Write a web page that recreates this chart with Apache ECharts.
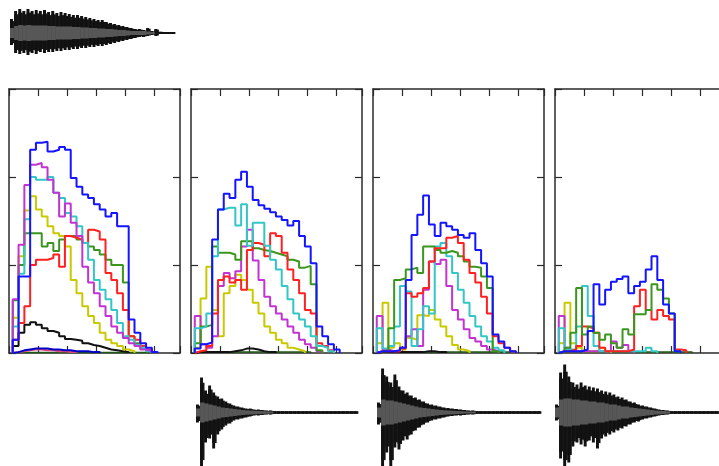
<!DOCTYPE html>
<html><head><meta charset="utf-8">
<script src="https://cdn.jsdelivr.net/npm/echarts@6/dist/echarts.min.js"></script>
<style>html,body{margin:0;padding:0;background:#fff}#c{width:719px;height:466px}</style>
</head><body><div id="c"></div>
<script>
// ---------- histogram data (bin heights, one value per bin) ----------
const binStart = 0.13, binWidth = 0.2;
const yTicks = [0, 1, 2, 3];

const p1Blue    = [0.15,0.87,0.87,2.31,2.39,2.40,2.29,2.31,2.34,2.31,1.99,1.89,1.80,1.76,1.69,1.63,1.55,1.59,1.44,1.44,0.38,0.23,0.11,0.06,0.01];
const p1Magenta = [0.61,1.23,1.91,2.14,2.16,2.11,1.97,1.82,1.55,1.70,1.48,1.33,0.98,0.80,0.68,0.53,0.42,0.30,0.23,0.17,0.11,0.08,0.04,0.02];
const p1Cyan    = [0.30,0.90,1.52,2.00,1.97,1.97,2.00,1.82,1.76,1.59,1.55,1.44,1.25,1.06,0.83,0.72,0.61,0.49,0.34,0.19,0.15,0.09,0.06,0.02];
const p1Yellow  = [0.40,1.10,1.62,1.78,1.63,1.55,1.44,1.36,1.33,1.21,0.83,0.68,0.53,0.42,0.34,0.23,0.15,0.11,0.08,0.04,0.02];
const p1Green   = [0.60,1.00,1.36,1.36,1.36,1.21,1.25,1.16,1.29,1.33,1.33,1.29,1.25,1.21,1.17,1.12,1.06,1.00,1.00,0.80,0.19,0.11,0.05,0.02];
const p1Red     = [0.15,0.34,0.53,1.00,1.06,1.06,1.08,1.12,0.98,1.33,1.31,1.29,1.25,1.40,1.38,1.29,0.91,0.83,0.68,0.49,0.19,0.15,0.08,0.04];
const p1Black   = [0.08,0.23,0.32,0.35,0.32,0.28,0.25,0.23,0.19,0.16,0.15,0.14,0.11,0.09,0.08,0.06,0.04,0.03,0.02,0.01];
const p1SmallBlue = [0.01,0.03,0.04,0.05,0.05,0.05,0.04,0.04,0.03,0.03,0.02,0.02,0.02,0.01,0.01];
const p1SmallRed  = [0.01,0.02,0.03,0.04,0.04,0.03,0.03,0.02,0.02,0.01,0.01];
const p1Base    = [0.005,0.005,0.005,0.005,0.005,0.005,0.005,0.005,0.005,0.005,0.005,0.005,0.005,0.005,0.005,0.005,0.005,0.005,0.005,0.005,0.005,0.005,0.005,0.005];

const p2Blue    = [0.05,0.10,0.12,1.29,1.63,1.81,1.76,1.97,2.06,1.89,1.74,1.68,1.64,1.60,1.55,1.51,1.45,1.50,1.33,1.21,1.02,0.30,0.19,0.10,0.04];
const p2Cyan    = [0.28,0.30,0.45,1.10,1.63,1.65,1.65,1.45,1.69,1.22,1.48,1.48,1.22,1.06,0.95,0.76,0.61,0.45,0.38,0.30,0.19,0.08,0.06,0.02];
const p2Magenta = [0.42,0.10,0.06,0.19,0.76,0.91,0.85,0.93,1.21,1.40,1.05,0.83,0.64,0.53,0.45,0.38,0.30,0.23,0.15,0.10,0.06,0.02];
const p2Yellow  = [0.06,0.62,0.98,0.49,0.19,0.68,0.76,0.89,0.83,0.72,0.57,0.45,0.30,0.23,0.15,0.11,0.06,0.04,0.02];
const p2Green   = [0.11,0.30,0.32,1.21,1.14,1.14,1.12,1.06,1.27,1.27,1.19,1.17,1.16,1.14,1.12,1.10,1.06,1.04,0.97,0.99,0.78,0.03];
const p2Red     = [0.02,0.03,0.08,0.45,0.83,0.87,0.80,0.83,0.72,1.17,1.25,1.23,1.10,1.36,1.33,1.14,0.95,0.83,0.68,0.49,0.45,0.11,0.08,0.03];
const p2Black   = [0.01,0.01,0.01,0.01,0.01,0.01,0.02,0.03,0.05,0.05,0.04,0.02,0.01,0.01];
const p2Base    = [0.01,0.01,0.01,0.01,0.01,0.01,0.01,0.01,0.01,0.01,0.01,0.01,0.01,0.01,0.01,0.01,0.01,0.01,0.01,0.01];

const p3Blue    = [0.02,0.02,0.02,0.03,0.06,0.83,1.34,1.57,1.79,1.46,1.33,1.48,1.44,1.40,1.34,1.31,1.36,1.17,1.02,0.87,0.21,0.13,0.06,0.02];
const p3Green   = [0.02,0.02,0.28,0.83,0.85,0.95,0.97,0.91,1.21,1.21,1.17,1.14,1.16,1.14,1.10,1.04,0.98,0.97,0.87,0.74,0.02];
const p3Red     = [0.02,0.02,0.02,0.02,0.05,0.68,0.64,0.68,0.74,1.04,1.19,1.19,1.31,1.33,1.25,1.06,0.91,0.80,0.64,0.45,0.19,0.11,0.06,0.02];
const p3Cyan    = [0.28,0.05,0.08,0.30,0.76,0.70,0.08,0.27,0.53,0.45,1.21,1.25,1.10,0.91,0.72,0.57,0.42,0.30,0.19,0.13,0.06,0.03];
const p3Magenta = [0.42,0.04,0.02,0.02,0.06,0.19,0.27,0.08,0.72,1.04,1.01,1.06,0.76,0.49,0.38,0.27,0.17,0.13,0.08,0.04,0.02];
const p3Yellow  = [0.11,0.57,0.06,0.11,0.04,0.17,0.15,0.43,0.42,0.49,0.38,0.30,0.19,0.09,0.04,0.02];
const p3Black   = [0.01,0.01,0.01,0.01,0.01,0.01,0.01,0.01,0.02,0.02,0.01,0.01];
const p3Base    = [0.01,0.01,0.01,0.01,0.01,0.01,0.01,0.01,0.01,0.01,0.01,0.01,0.01,0.01,0.01,0.01,0.01,0.01,0.01,0.01,0.01,0.01,0.01];

const p4Blue    = [0.02,0.02,0.02,0.02,0.04,0.25,0.78,0.55,0.72,0.81,0.84,0.87,0.68,0.76,0.81,0.95,1.10,0.83,0.55,0.45,0.02];
const p4Green   = [0.02,0.06,0.23,0.74,0.21,0.30,0.23,0.15,0.21,0.11,0.06,0.27,0.21,0.44,0.44,0.49,0.78,0.72,0.62,0.45,0.02];
const p4Red     = [0.02,0.02,0.04,0.08,0.30,0.28,0.23,0.06,0.02,0.02,0.02,0.02,0.04,0.53,0.72,0.49,0.38,0.49,0.42,0.38,0.04,0.03];
const p4Cyan    = [0.28,0.04,0.04,0.30,0.76,0.42,0.08,0.02,0.02,0.02,0.02,0.02,0.02,0.02,0.02,0.06,0.02];
const p4Magenta = [0.42,0.06,0.02,0.02,0.02,0.02,0.02,0.02,0.02,0.13,0.06,0.09,0.02];
const p4Yellow  = [0.11,0.57,0.11,0.06,0.02,0.02,0.02,0.06,0.02];
const p4Base    = [0.01,0.01,0.01,0.01,0.01,0.01,0.01,0.01,0.01,0.01,0.01,0.01,0.01,0.01,0.01,0.01,0.01,0.01,0.01,0.01,0.01,0.01,0.01];

// ---------- waveform envelopes (upper peak, lower peak, inner core) ----------
const waveTopHi   = [14,22,24,22,24,22,23,22,23,21,22,20,21,20,19,18,18,17,16,15,14,13,13,11,10,9,8,7,6,5,4,4,3,5,2,4,1.2,1,1,1];
const waveTopLo   = [12,20,21,20,22,20,21,19,20,19,19,18,18,17,17,16,16,15,15,14,14,13,13,12,11,10,9,8,7,6,5,4,4,3,2,3,1,1,1,1];
const waveTopCore = [5,7,8,7.5,8,7.5,7.5,7.5,7.5,7,7,6.5,6.5,6.5,6.5,6,6,5.5,5.5,5,5,4.5,4.5,4,4,3.5,3,3,2.5,2,2,2,2,1.5,1,0,0,0,0,0];

const wave2Hi   = [8,35,22,27,20,16,14,11,9,7,6,5,4,4,3,3,2.5,2,2,1.2,1.2,1.2,1.2,1.2,1.2,1.2,1.2,1.2,1.2,1.2,1.2,1.2,1.2,1.2,1.2,1.2,1.2,1.2,1.2,1.2];
const wave2Lo   = [10,56,30,26,36,22,17,13,11,8,7,6,5,4,3,3,2.5,2,2,1.2,1.2,1.2,1.2,1.2,1.2,1.2,1.2,1.2,1.2,1.2,1.2,1.2,1.2,1.2,1.2,1.2,1.2,1.2,1.2,1.2];
const wave2Core = [4,10,9,8,7,6,5,4.5,4,3.5,3,2.5,2.2,2,1.8,1.6,1.4,1.2,1,0,0,0,0,0,0,0,0,0,0,0,0,0,0,0,0,0,0,0,0,0];

const wave3Hi   = [10,44,36,30,38,26,22,20,17,15,13,11,9,8,7,6,5,4.5,4,3.5,3,2.5,2,2,1.2,1.2,1.2,1.2,1.2,1.2,1.2,1.2,1.2,1.2,1.2,1.2,1.2,1.2,1.2,1.2];
const wave3Lo   = [12,56,40,56,35,37,28,27,22,18,15,12,10,8,7,6,5,4,3.5,3,3,2.5,2,2,1.2,1.2,1.2,1.2,1.2,1.2,1.2,1.2,1.2,1.2,1.2,1.2,1.2,1.2,1.2,1.2];
const wave3Core = [5,13,12,12,11,10,9,8,7,6,5,4.5,4,3.5,3,2.5,2.2,2,1.8,1.5,1.3,1.1,1,1,0,0,0,0,0,0,0,0,0,0,0,0,0,0,0,0];

const wave4Hi   = [8,40,48,36,30,28,30,27,26,25,24,22,21,20,18,16,15,13,11,10,8,7,6,5,4,3,2.5,2,1.2,1.2,1.2,1.2,1.2,1.2,1.2,1.2,1.2,1.2,1.2,1.2];
const wave4Lo   = [8,46,56,50,34,30,32,34,28,30,36,26,24,22,20,18,16,14,12,10,9,7,6,5,4,3,2.5,2,1.2,1.2,1.2,1.2,1.2,1.2,1.2,1.2,1.2,1.2,1.2,1.2];
const wave4Core = [5,13,14,14,13,13,12,12,11,11,10,10,9,8,8,7,6,6,5,4.5,4,3.5,3,2.5,2,1.8,1.5,1.2,0,0,0,0,0,0,0,0,0,0,0,0];

// ---------- layout / style ----------
const colors = {blue:'#1414ff', magenta:'#c233d2', cyan:'#33c6c6', yellow:'#c9c900', green:'#3a961e', red:'#ff2121', black:'#111111', smallBlue:'#0000c8', smallRed:'#e04a7a', base:'#1f5a14'};
const panels = [
  {left: 9,   s: [['base',p1Base],['smallRed',p1SmallRed],['smallBlue',p1SmallBlue],['black',p1Black],['yellow',p1Yellow],['green',p1Green],['red',p1Red],['cyan',p1Cyan],['magenta',p1Magenta],['blue',p1Blue]]},
  {left: 191, s: [['base',p2Base],['black',p2Black],['yellow',p2Yellow],['magenta',p2Magenta],['green',p2Green],['red',p2Red],['cyan',p2Cyan],['blue',p2Blue]]},
  {left: 373, s: [['base',p3Base],['black',p3Black],['yellow',p3Yellow],['magenta',p3Magenta],['cyan',p3Cyan],['green',p3Green],['red',p3Red],['blue',p3Blue]]},
  {left: 555, s: [['base',p4Base],['yellow',p4Yellow],['magenta',p4Magenta],['cyan',p4Cyan],['red',p4Red],['green',p4Green],['blue',p4Blue]]}
];
const PW = 171, PT = 89, PH = 264, XMAX = 5.9;

const grids = [], xAxes = [], yAxes = [], series = [];
const axisLine = {show: true, onZero: false, lineStyle: {color: '#2a2a2a', width: 1.5}};
const axisTick = {show: true, inside: true, length: 7, lineStyle: {color: '#2a2a2a', width: 1.2}};

function histPoints(vals) {
  const pts = [[binStart, 0]];
  vals.forEach((v, k) => pts.push([binStart + k * binWidth, v]));
  pts.push([binStart + vals.length * binWidth, 0]);
  return pts;
}

panels.forEach((p, i) => {
  grids.push({left: p.left, top: PT, width: PW, height: PH, containLabel: false, outerBoundsMode: 'none'});
  ['bottom', 'top'].forEach(pos => xAxes.push({type: 'value', gridIndex: i, position: pos, min: 0, max: XMAX, interval: 1,
    axisLine, axisTick, axisLabel: {show: false}, splitLine: {show: false}}));
  ['left', 'right'].forEach(pos => yAxes.push({type: 'value', gridIndex: i, position: pos, min: yTicks[0], max: yTicks[yTicks.length - 1], interval: 1,
    axisLine, axisTick, axisLabel: {show: false}, splitLine: {show: false}}));
  p.s.forEach(([c, vals]) => series.push({type: 'line', xAxisIndex: 2 * i, yAxisIndex: 2 * i, step: 'end', showSymbol: false,
    data: histPoints(vals), lineStyle: {color: colors[c], width: c === 'base' ? 1.5 : 2}, itemStyle: {color: colors[c]},
    silent: true, animation: false, z: 2}));
});

// waveform grids
const waves = [
  {left: 10,  top: 8,   width: 165, height: 50,  amp: 25, hi: waveTopHi, lo: waveTopLo, core: waveTopCore},
  {left: 196, top: 357.5, width: 162, height: 110, amp: 55, hi: wave2Hi, lo: wave2Lo, core: wave2Core},
  {left: 377, top: 357.5, width: 164, height: 110, amp: 55, hi: wave3Hi, lo: wave3Lo, core: wave3Core},
  {left: 555, top: 357.5, width: 164, height: 110, amp: 55, hi: wave4Hi, lo: wave4Lo, core: wave4Core}
];
function makeWaveItem(fill) {
  return function (params, api) {
    const i = api.value(0), hi = api.value(1), lo = api.value(2);
    if (hi + lo <= 0) return null;
    const a = api.coord([i, hi]), b = api.coord([i + 1, -lo]);
    const w = b[0] - a[0];
    return {type: 'rect', shape: {x: a[0], y: a[1], width: w * fill, height: b[1] - a[1]}, style: {fill: api.visual('color')}};
  };
}
waves.forEach((w, k) => {
  const gi = panels.length + k;
  grids.push({left: w.left, top: w.top, width: w.width, height: w.height, outerBoundsMode: 'none'});
  xAxes.push({type: 'value', gridIndex: gi, min: 0, max: w.hi.length, show: false});
  yAxes.push({type: 'value', gridIndex: gi, min: -w.amp, max: w.amp, show: false});
  const xi = xAxes.length - 1, yi = yAxes.length - 1;
  // zero line of the signal (continuous trace)
  series.push({type: 'line', xAxisIndex: xi, yAxisIndex: yi, showSymbol: false, silent: true, animation: false,
    data: [[0, 0], [w.hi.length, 0]], lineStyle: {color: '#1a1a1a', width: 2.2}, z: 1});
  // solid body of the envelope, then thinner full-height spikes on top, then the grey core
  series.push({type: 'custom', xAxisIndex: xi, yAxisIndex: yi, renderItem: makeWaveItem(1.1), silent: true, animation: false,
    itemStyle: {color: '#161616'}, encode: {x: 0, y: [1, 2]}, data: w.hi.map((h, j) => [j, Math.max(h * 0.85, Math.min(h, 1.2)), Math.max(w.lo[j] * 0.85, Math.min(w.lo[j], 1.2))])});
  series.push({type: 'custom', xAxisIndex: xi, yAxisIndex: yi, renderItem: makeWaveItem(0.72), silent: true, animation: false,
    itemStyle: {color: '#111111'}, encode: {x: 0, y: [1, 2]}, data: w.hi.map((h, j) => [j, h, w.lo[j]])});
  series.push({type: 'custom', xAxisIndex: xi, yAxisIndex: yi, renderItem: makeWaveItem(1.1), silent: true, animation: false,
    itemStyle: {color: '#575757'}, encode: {x: 0, y: [1, 2]}, data: w.core.map((c, j) => [j, c, c])});
});

const chart = echarts.init(document.getElementById('c'), null, {renderer: 'canvas'});
chart.setOption({backgroundColor: '#ffffff', animation: false, grid: grids, xAxis: xAxes, yAxis: yAxes, series});
</script></body></html>
